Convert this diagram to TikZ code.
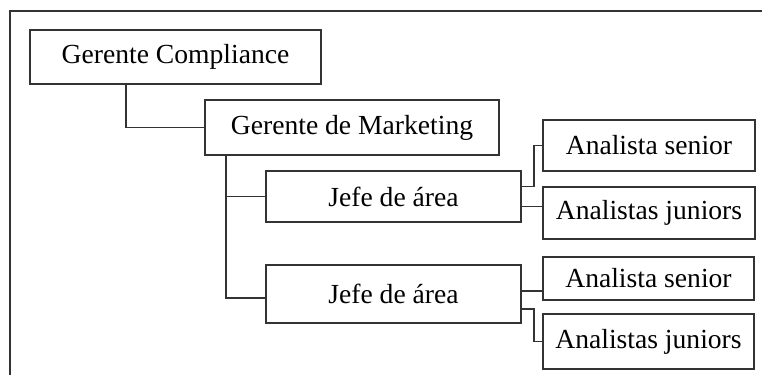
\documentclass[tikz,border=0pt]{standalone}
\usepackage{fontspec}
\setmainfont{Liberation Serif}
\usepackage{tikz}
\usetikzlibrary{positioning}
\tikzset{
	every node/.style = {font=\fontsize{13.8}{16}\selectfont},
	caja/.style = {draw=black!80, line width=0.8pt, inner sep=0pt, align=center},
	linea/.style = {draw=black!80, line width=0.8pt}
}

\begin{document}
\begin{tikzpicture}[x=0.5pt, y=-0.5pt]
		\useasboundingbox (0,0) rectangle (762,375);
		% marco
		\coordinate (fa) at (10,375);
		\coordinate (fb) at (10,11);
		\coordinate (fc) at (762,11);
		\draw[linea] (fa) -- (fb) -- (fc);
		% gerentes
		\node[caja, minimum width=145.5pt, minimum height=27pt] (gc) at (175.5,57) {Gerente Compliance};
		\node[caja, minimum width=147pt, minimum height=27.5pt] (gm) at (352,127.5) {Gerente de Marketing};
		% jefes
		\node[caja, minimum width=127.5pt, minimum height=25.5pt] (j1) at (393.5,196.5) {Jefe de área};
		\node[caja, minimum width=127.5pt, minimum height=29pt] (j2) at (393.5,294) {Jefe de área};
		% analistas
		\node[caja, minimum width=106pt, minimum height=25.5pt] (as1) at (649,145.5) {Analista senior};
		\node[caja, minimum width=106pt, minimum height=26pt] (aj1) at (649,213) {Analistas juniors};
		\node[caja, minimum width=105.5pt, minimum height=21.5pt] (as2) at (648.5,278.5) {Analista senior};
		\node[caja, minimum width=105.5pt, minimum height=27.5pt] (aj2) at (648.5,341.5) {Analistas juniors};
		% conectores
		\draw[linea] ([xshift=48.5pt]gc.south west) |- (gm.west);
		\draw[linea] ([xshift=11pt]gm.south west) |- (j1.west);
		\draw[linea] ([xshift=11pt]gm.south west) |- ([yshift=-2pt]j2.west);
		\draw[linea] ([yshift=5pt]j1.east) -- ++(6pt,0) |- (as1.west);
		\draw[linea] ([yshift=-5pt]j1.east) -- ([yshift=-5pt]j1.east -| aj1.west);
		\draw[linea] ([yshift=1.5pt]j2.east) -- ([yshift=1.5pt]j2.east -| as2.west);
		\draw[linea] ([yshift=-7.5pt]j2.east) -- ++(6pt,0) |- (aj2.west);
	\end{tikzpicture}
\end{document}
